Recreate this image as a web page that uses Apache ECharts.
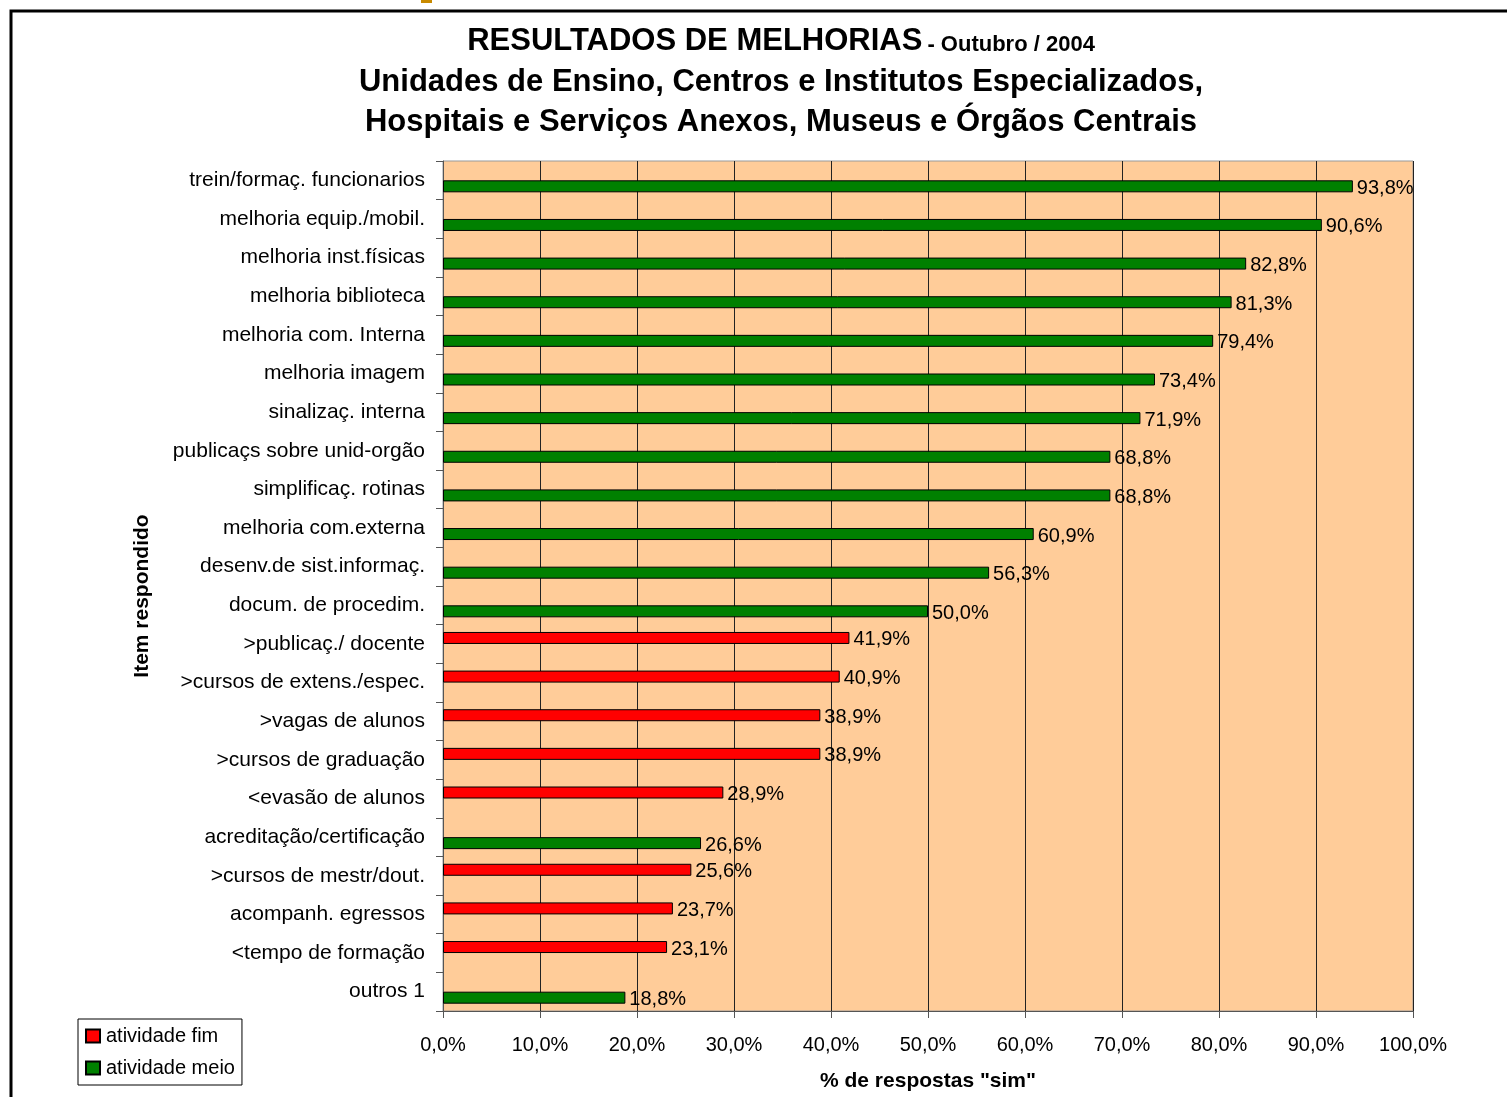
<!DOCTYPE html>
<html>
<head>
<meta charset="utf-8">
<script src="https://cdn.jsdelivr.net/npm/echarts@6/dist/echarts.min.js"></script>
<style>html,body{margin:0;padding:0;background:#fff;}#c{width:1507px;height:1097px;}</style>
</head>
<body>
<div id="c"></div>
<script>
var categories = [
  "trein/formaç. funcionarios",
  "melhoria equip./mobil.",
  "melhoria inst.físicas",
  "melhoria biblioteca",
  "melhoria com. Interna",
  "melhoria imagem",
  "sinalizaç. interna",
  "publicaçs sobre unid-orgão",
  "simplificaç. rotinas",
  "melhoria com.externa",
  "desenv.de sist.informaç.",
  "docum. de procedim.",
  ">publicaç./ docente",
  ">cursos de extens./espec.",
  ">vagas de alunos",
  ">cursos de graduação",
  "<evasão de alunos",
  "acreditação/certificação",
  ">cursos de mestr/dout.",
  "acompanh. egressos",
  "<tempo de formação",
  "outros 1"
];
var atividadeFim = [null,null,null,null,null,null,null,null,null,null,null,null,
  41.9,40.9,38.9,38.9,28.9,null,25.6,23.7,23.1,null];
var atividadeMeio = [93.8,90.6,82.8,81.3,79.4,73.4,71.9,68.8,68.8,60.9,56.3,50.0,
  null,null,null,null,null,26.6,null,null,null,18.8];
var xTicks = {min:0, max:100, interval:10};

var FONT = '"Liberation Sans", Arial, Helvetica, sans-serif';
function pct(v){ return Number(v).toFixed(1).replace('.', ',') + '%'; }

var chart = echarts.init(document.getElementById('c'));
var barLabel = {show:true, position:'right', distance:4, fontSize:20, fontFamily:FONT, color:'#000',
  offset:[0,2],
  formatter:function(p){ return p.value == null ? '' : pct(p.value); }};
chart.setOption({
  animation:false,
  backgroundColor:'#fff',
  title:[
    {text:'{a|RESULTADOS DE MELHORIAS} {b|- Outubro / 2004}', left:776, top:21, textAlign:'center',
      textStyle:{rich:{a:{fontSize:31,fontWeight:'bold',fontFamily:FONT,color:'#000'},
                       b:{fontSize:22,fontWeight:'bold',fontFamily:FONT,color:'#000',padding:[6,0,0,0]}}}},
    {text:'Unidades de Ensino, Centros e Institutos Especializados,', left:776, top:62, textAlign:'center',
      textStyle:{fontSize:31,fontWeight:'bold',fontFamily:FONT,color:'#000'}},
    {text:'Hospitais e Serviços Anexos, Museus e Órgãos Centrais', left:776, top:102, textAlign:'center',
      textStyle:{fontSize:31,fontWeight:'bold',fontFamily:FONT,color:'#000'}}
  ],
  legend:{
    orient:'vertical', left:78, top:1019, padding:[6,7,6,7], itemGap:10,
    itemWidth:14, itemHeight:13, borderColor:'#000', borderWidth:1, backgroundColor:'#fff',
    icon:'rect',
    textStyle:{fontSize:20, fontFamily:FONT, color:'#000', lineHeight:22, padding:[0,0,0,1]},
    data:['atividade fim','atividade meio']
  },
  grid:{left:443, right:94, top:161, bottom:85, show:true, backgroundColor:'#FFCC99', borderColor:'#999', borderWidth:1},
  xAxis:{
    type:'value', min:xTicks.min, max:xTicks.max, interval:xTicks.interval,
    name:'% de respostas "sim"', nameLocation:'middle', nameGap:60,
    nameTextStyle:{fontSize:21, fontWeight:'bold', fontFamily:FONT, color:'#000'},
    axisLine:{show:true, lineStyle:{color:'#555', width:1}},
    axisTick:{show:true, length:7, lineStyle:{color:'#555'}},
    axisLabel:{formatter:function(v){return pct(v);}, fontSize:20, fontFamily:FONT, color:'#000', margin:24},
    splitLine:{show:true, lineStyle:{color:'#222', width:1}}
  },
  yAxis:{
    type:'category', inverse:true, data:categories,
    name:'Item respondido', nameLocation:'middle', nameGap:290,
    nameTextStyle:{fontSize:21, fontWeight:'bold', fontFamily:FONT, color:'#000', padding:[0,20,0,0]},
    axisLine:{show:true, lineStyle:{color:'#555', width:1}},
    axisTick:{show:true, length:7, lineStyle:{color:'#555'}},
    axisLabel:{fontSize:21, fontFamily:FONT, color:'#000', margin:18},
    splitLine:{show:false}
  },
  series:[
    {name:'atividade fim', type:'bar', data:atividadeFim, barWidth:12, barGap:'0%',
      itemStyle:{color:'#FF0000', borderColor:'#000', borderWidth:1}, label:barLabel},
    {name:'atividade meio', type:'bar', data:atividadeMeio, barWidth:12, barGap:'0%',
      itemStyle:{color:'#008000', borderColor:'#000', borderWidth:1}, label:barLabel}
  ],
  graphic:[
    {type:'rect', shape:{x:11, y:11, width:1700, height:1300}, style:{fill:null, stroke:'#000', lineWidth:3}, z:100, silent:true},
    {type:'rect', shape:{x:421, y:0, width:11, height:3}, style:{fill:'#C88A00'}, z:100, silent:true}
  ]
});
</script>
</body>
</html>
